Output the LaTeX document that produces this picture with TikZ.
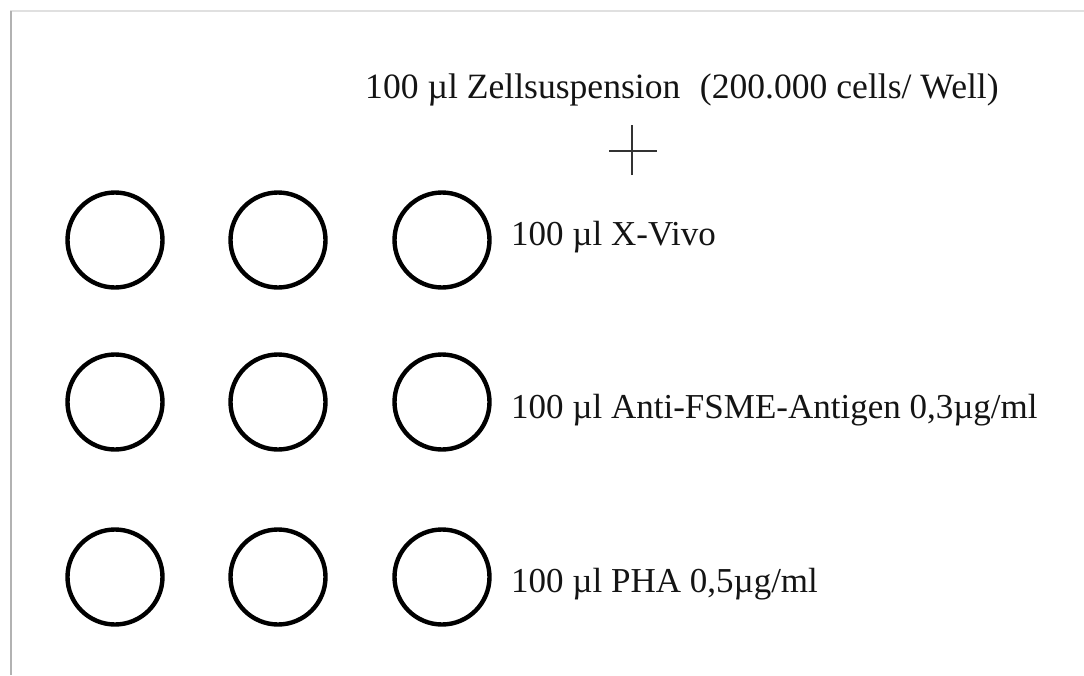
\documentclass[tikz,border=0pt]{standalone}
\usepackage{fontspec}
\setmainfont{Liberation Serif}
\begin{document}
\begin{tikzpicture}[x=1pt,y=-1pt,
  well/.style={circle,draw=black,line width=4.4pt,minimum size=95pt,inner sep=0pt},
  lbl/.style={anchor=base west,inner sep=0pt,font=\fontsize{35}{42}\selectfont,text=black!92}]
  % page area and frame edges
  \useasboundingbox (0,0) rectangle (1084,675);
  \fill[white] (0,0) rectangle (1084,675);
  \draw[black!12,line width=1.5pt] (10,11) -- (1084,11);
  \draw[black!30,line width=2pt] (10.5,11) -- (10.5,675);
  % wells: three rows of three
  \foreach \r/\y in {1/240,2/402,3/577}{
    \foreach \c/\x in {1/115,2/278,3/442}{
      \node[well] (w\r\c) at (\x,\y) {};
    }
  }
  % labels
  \node[lbl,font=\fontsize{35.6}{42}\selectfont] (top) at (365,98)
    {100 µl Zellsuspension\hspace{0.3em} (200.000 cells/ Well)};
  \node[lbl] (l1) at (511,245) {100 µl X-Vivo};
  \node[lbl] (l2) at (511,418) {100 µl Anti-FSME-Antigen 0,3µg/ml};
  \node[lbl] (l3) at (511,592) {100 µl PHA 0,5µg/ml};
  % plus sign
  \coordinate (pc) at (632,151);
  \draw[black!80,line width=2pt] ([xshift=-23pt]pc) -- ([xshift=25pt]pc);
  \draw[black!80,line width=2pt] ([yshift=-24pt]pc) -- ([yshift=26pt]pc);
\end{tikzpicture}
\end{document}
